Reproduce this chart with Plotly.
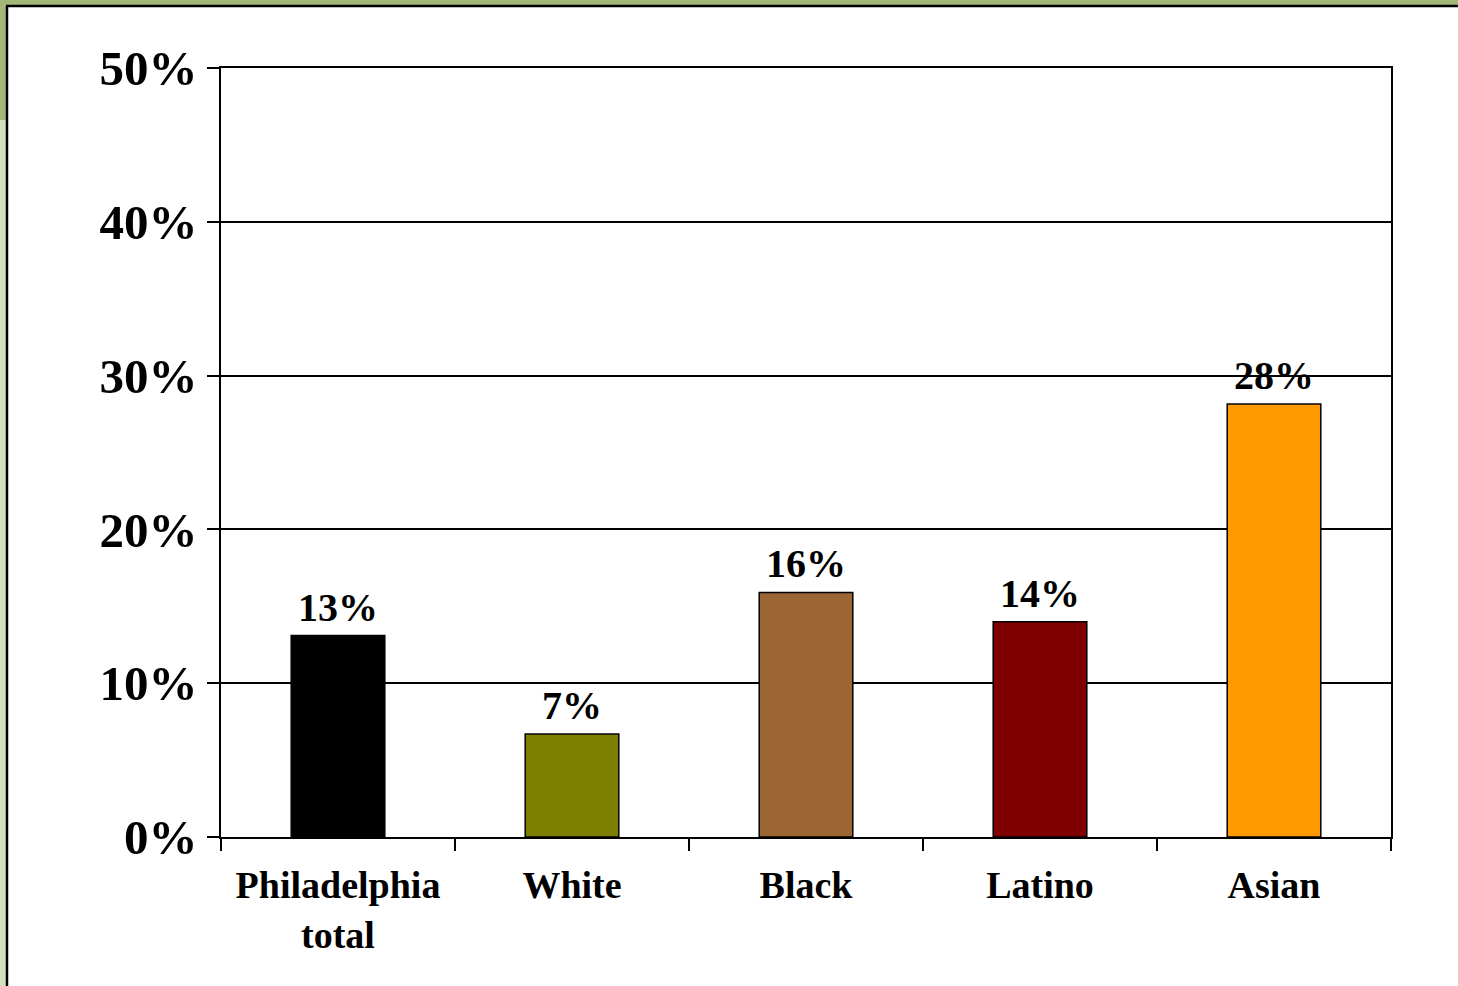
import plotly.graph_objects as go

categories = ["Philadelphia<br>total", "White", "Black", "Latino", "Asian"]
values = [13.1, 6.7, 15.9, 14.0, 28.15]
labels = ["13%", "7%", "16%", "14%", "28%"]
colors = ["#000000", "#808000", "#9C6534", "#800000", "#FF9900"]
y_ticks = [0, 10, 20, 30, 40, 50]
y_tick_text = ["0%", "10%", "20%", "30%", "40%", "50%"]

W, H = 1458, 986
ML, MR, MT, MB = 221, 67, 68, 149
PW, PH = W - ML - MR, H - MT - MB

def px(x):
    return (x - ML) / PW

def py(y):
    return 1 - (y - MT) / PH

FONT = "Liberation Serif"

fig = go.Figure(go.Bar(
    x=categories, y=values, width=0.4,
    marker=dict(color=colors, line=dict(color="#000000", width=1.5)),
    hoverinfo="x+y",
))

annotations = [
    dict(x=c, y=v, text=t, xref="x", yref="y", showarrow=False,
         yanchor="bottom", yshift=4,
         font=dict(family=FONT, size=40, color="#000000", weight="bold"))
    for c, v, t in zip(categories, values, labels)
]

shapes = [
    dict(type="rect", xref="paper", yref="paper", x0=px(0), x1=px(W), y0=py(0), y1=py(5),
         fillcolor="#a3b878", line_width=0, layer="below"),
    dict(type="rect", xref="paper", yref="paper", x0=px(0), x1=px(6), y0=py(0), y1=py(H),
         fillcolor="#d4dfbf", line_width=0, layer="below"),
    dict(type="rect", xref="paper", yref="paper", x0=px(0), x1=px(6), y0=py(0), y1=py(120),
         fillcolor="#a3b878", line_width=0, layer="below"),
    dict(type="line", xref="paper", yref="paper", x0=px(6), x1=px(W), y0=py(6), y1=py(6),
         line=dict(color="#000000", width=2.5), layer="below"),
    dict(type="line", xref="paper", yref="paper", x0=px(7), x1=px(7), y0=py(6), y1=py(H),
         line=dict(color="#000000", width=2.5), layer="below"),
]

fig.update_layout(
    width=W, height=H,
    margin=dict(l=ML, r=MR, t=MT, b=MB),
    paper_bgcolor="#ffffff", plot_bgcolor="#ffffff",
    showlegend=False, bargap=0.6,
    shapes=shapes, annotations=annotations,
    font=dict(family=FONT, color="#000000"),
    yaxis=dict(
        range=[0, 50], tickvals=y_ticks, ticktext=y_tick_text,
        showgrid=True, gridcolor="#000000", gridwidth=1.5,
        showline=True, linecolor="#000000", linewidth=1.5, mirror=True,
        ticks="outside", ticklen=12, tickcolor="#000000", tickwidth=1.5,
        tickfont=dict(family=FONT, size=49, color="#000000", weight="bold"),
        zeroline=False, fixedrange=True,
    ),
    xaxis=dict(
        showline=True, linecolor="#000000", linewidth=1.5, mirror=True,
        ticks="outside", ticklen=12, tickcolor="#000000", tickwidth=1.5,
        tickson="boundaries", showgrid=False, ticklabelstandoff=14,
        tickfont=dict(family=FONT, size=38, color="#000000", weight="bold"),
        fixedrange=True,
    ),
)

fig.write_html("out.html")
